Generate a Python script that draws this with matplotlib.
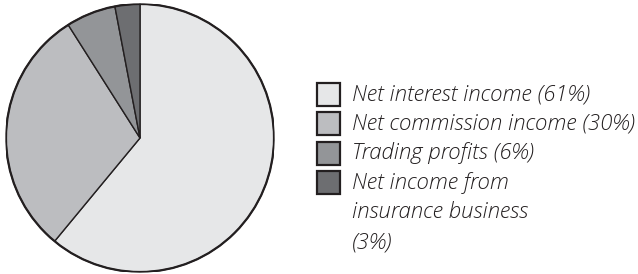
import matplotlib.pyplot as plt
from matplotlib.patches import Rectangle

labels = ['Net interest income (61%)', 'Net commission income (30%)',
          'Trading profits (6%)', 'Net income from\ninsurance business\n(3%)']
shares = [61, 30, 6, 3]
colors = ['#e6e7e8', '#bcbdc0', '#939598', '#6d6e71']
edge = '#231f20'

W, H = 638, 274
fig = plt.figure(figsize=(W / 100, H / 100), dpi=100)

# pie area in pixels: centre (140,138), radius ~133
ax = fig.add_axes([(140 - 134) / W, (H - 138 - 134) / H, 268 / W, 268 / H])
ax.pie(shares, colors=colors, startangle=90, counterclock=False, radius=1,
       wedgeprops=dict(edgecolor=edge, linewidth=1.0))
ax.add_patch(plt.Circle((0, 0), 1, fill=False, edgecolor=edge, linewidth=1.6))
ax.set_xlim(-1.0, 1.0)
ax.set_ylim(-1.0, 1.0)
ax.set_aspect('equal')
ax.axis('off')

# legend drawn by hand so the multi-line label keeps its box at the top
line_h = 29.6
y0 = 94
for i, (lab, c) in enumerate(zip(labels, colors)):
    yc = y0 + i * line_h
    fig.patches.append(Rectangle((317 / W, (H - yc - 11.5) / H), 23 / W, 23 / H,
                                 transform=fig.transFigure, facecolor=c,
                                 edgecolor=edge, linewidth=1.6))
    for k, part in enumerate(lab.split('\n')):
        fig.text(352 / W, (H - yc - k * line_h) / H, part, fontsize=16,
                 style='italic', fontweight='light', color='#231f20',
                 va='center', family='Open Sans')

fig.savefig('out.png', dpi=100)
